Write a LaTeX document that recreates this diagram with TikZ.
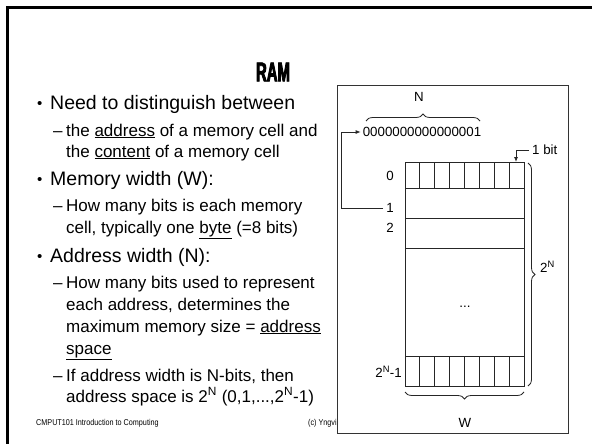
\documentclass[tikz,border=0pt]{standalone}
\usepackage{fontspec}
\setmainfont{Liberation Sans}
\newfontfamily\titlefont[FakeStretch=0.55,FakeBold=3]{Liberation Sans Bold}
\usetikzlibrary{decorations.pathreplacing,arrows.meta}
\begin{document}
\begin{tikzpicture}[x=1pt,y=-1pt,
  bul/.style={anchor=base west,inner sep=0pt,font=\fontsize{19.5}{22}\selectfont},
  dot/.style={anchor=base west,inner sep=0pt,font=\fontsize{15}{18}\selectfont},
  subl/.style={anchor=base west,inner sep=0pt,font=\fontsize{17}{20}\selectfont},
  lbl/.style={inner sep=0pt,font=\fontsize{13.3}{15}\selectfont},
  foot/.style={anchor=base west,inner sep=0pt,font=\fontsize{8.5}{10}\selectfont},
  thin/.style={line width=0.8pt,draw=black!85},
  brc/.style={thin,decorate,decoration={brace,amplitude=7pt}},
  tip/.style={-{Latex[length=5pt,width=4pt]}}]
\useasboundingbox (0,0) rectangle (592,444);
\fill[white] (0,0) rectangle (592,444);
% slide border
\draw[line width=2.6pt,black] (592,7.5) -- (7.5,7.5) -- (7.5,444);
% title
\node[inner sep=0pt,font=\titlefont\fontsize{27}{30}\selectfont] (title) at (273,72) {RAM};
% bullets
\node[dot] (b1) at (37,109) {•};
\node[bul] (t1) at (50,110) {Need to distinguish between};
\node[subl] (d1) at (53,136) {–};
\node[subl] (t1a) at (66,136) {the \underline{address} of a memory cell and};
\node[subl] (t1b) at (66,157) {the \underline{content} of a memory cell};
\node[dot] (b2) at (37,184) {•};
\node[bul] (t2) at (50,185) {Memory width (W):};
\node[subl] (d2) at (53,211) {–};
\node[subl] (t2a) at (66,211) {How many bits is each memory};
\node[subl] (t2b) at (66,233) {cell, typically one \underline{byte} (=8 bits)};
\node[dot] (b3) at (37,261) {•};
\node[bul] (t3) at (50,262) {Address width (N):};
\node[subl] (d3) at (53,288) {–};
\node[subl] (t3a) at (66,288) {How many bits used to represent};
\node[subl] (t3b) at (66,310) {each address, determines the};
\node[subl] (t3c) at (66,332) {maximum memory size = \underline{address}};
\node[subl] (t3d) at (66,354) {\underline{space}};
\node[subl] (d4) at (53,381) {–};
\node[subl] (t4a) at (66,381) {If address width is N-bits, then};
\node[subl] (t4b) at (66,402) {address space is 2\textsuperscript{N} (0,1,...,2\textsuperscript{N}-1)};
% footer
\node[foot] (f1) at (36,425) {\scalebox{0.85}[1]{CMPUT101 Introduction to Computing}};
\node[foot] (f2) at (308,425) {\scalebox{0.85}[1]{(c) Yngvi Bjornsson}};
% diagram frame
\node[draw=black!80,line width=0.9pt,fill=white,minimum width=231pt,minimum height=348pt,inner sep=0pt] (frame) at (452.5,259) {};
% memory grid
\draw[thin] (405,162) rectangle (524,386);
\foreach \yy in {188,218,248,356} \draw[thin] (405,\yy) -- (524,\yy);
\foreach \i in {1,...,7} {
  \draw[thin] (405+\i*14.875,162) -- (405+\i*14.875,188);
  \draw[thin] (405+\i*14.875,356) -- (405+\i*14.875,386);
}
% labels
\node[lbl] (N) at (419,97) {N};
\node[lbl] (addr) at (422,132) {0000000000000001};
\node[lbl] (l0) at (390,176) {0};
\node[lbl] (l1) at (390,208) {1};
\node[lbl] (l2) at (390,228) {2};
\node[lbl,anchor=east] (lN) at (402,372) {2\textsuperscript{N}-1};
\node[lbl] (dots) at (465,307) {...};
\node[lbl,anchor=west] (onebit) at (532,150) {1 bit};
\node[lbl,anchor=west] (twoN) at (540,267) {2\textsuperscript{N}};
\node[lbl] (W) at (465,423) {W};
% braces
\draw[brc] (366,121) -- (480,121);
\draw[brc] (528,163) -- (528,386);
\draw[brc] (524,392) -- (405,392);
% arrows
\coordinate (bittop) at (516,162);
\draw[thin,tip] (l1.west) ++(-3,0) -- ++(-42,0) |- ([xshift=-2pt]addr.west);
\draw[thin,tip] ([xshift=-3pt]onebit.west) -| (bittop);
\end{tikzpicture}
\end{document}
